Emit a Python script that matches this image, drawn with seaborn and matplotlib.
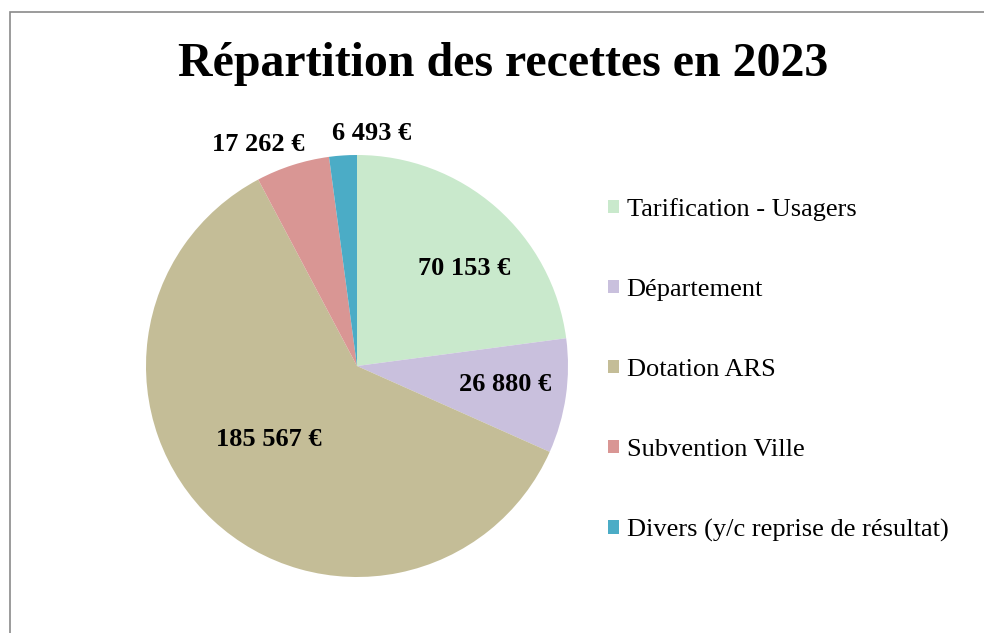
import matplotlib
matplotlib.use("Agg")
import matplotlib.pyplot as plt
import seaborn as sns
from matplotlib.patches import Rectangle

# DATA
categories = ["Tarification - Usagers", "Département", "Dotation ARS",
              "Subvention Ville", "Divers (y/c reprise de résultat)"]
values = [70153, 26880, 185567, 17262, 6493]
value_labels = ["70 153 €", "26 880 €", "185 567 €", "17 262 €", "6 493 €"]
colors = ["#C9E9CC", "#C9C0DD", "#C4BD97", "#D99694", "#4BACC6"]

# label positions in pie radius units
label_x = [0.51, 0.70, -0.42, -0.47, 0.07]
label_y = [0.46, -0.09, -0.35, 1.05, 1.10]

sns.set_theme(style="white")
plt.rcParams["font.family"] = ["Liberation Serif", "DejaVu Serif"]
plt.rcParams["text.color"] = "black"

W, H = 984, 633
fig = plt.figure(figsize=(W / 100, H / 100), dpi=100)

# pie axes
cx, cy, r = 357, 366, 211
lim = 1.2
ax = fig.add_axes([(cx - lim * r) / W, 1 - (cy + lim * r) / H,
                   2 * lim * r / W, 2 * lim * r / H])
wedges, _ = ax.pie(values, colors=colors, startangle=90, counterclock=False,
                   wedgeprops=dict(linewidth=0))
ax.set_xlim(-lim, lim)
ax.set_ylim(-lim, lim)
ax.set_aspect("equal")
ax.axis("off")

for x, y, t in zip(label_x, label_y, value_labels):
    ax.text(x, y, t, ha="center", va="center", fontsize=19,
            fontweight="bold", color="black")

# TITLE
fig.text(503 / W, 1 - 64 / H, "Répartition des recettes en 2023",
         ha="center", va="center", fontsize=34.5, fontweight="bold",
         color="black")

# LEGEND
leg = fig.legend(wedges, categories, loc="center left",
                 bbox_to_anchor=(597 / W, 1 - 370 / H), frameon=False,
                 fontsize=19, handlelength=0.42, handleheight=0.42,
                 handletextpad=0.3, labelspacing=2.2, borderaxespad=0)
for t in leg.get_texts():
    t.set_color("black")

# frame border (top-left visible)
fig.patches.append(Rectangle((10 / W, -0.1), 2, 1 - 12 / H + 0.1,
                             transform=fig.transFigure, fill=False,
                             edgecolor="#8A8A8A", linewidth=1.2))

plt.savefig("out.png", dpi=100)
